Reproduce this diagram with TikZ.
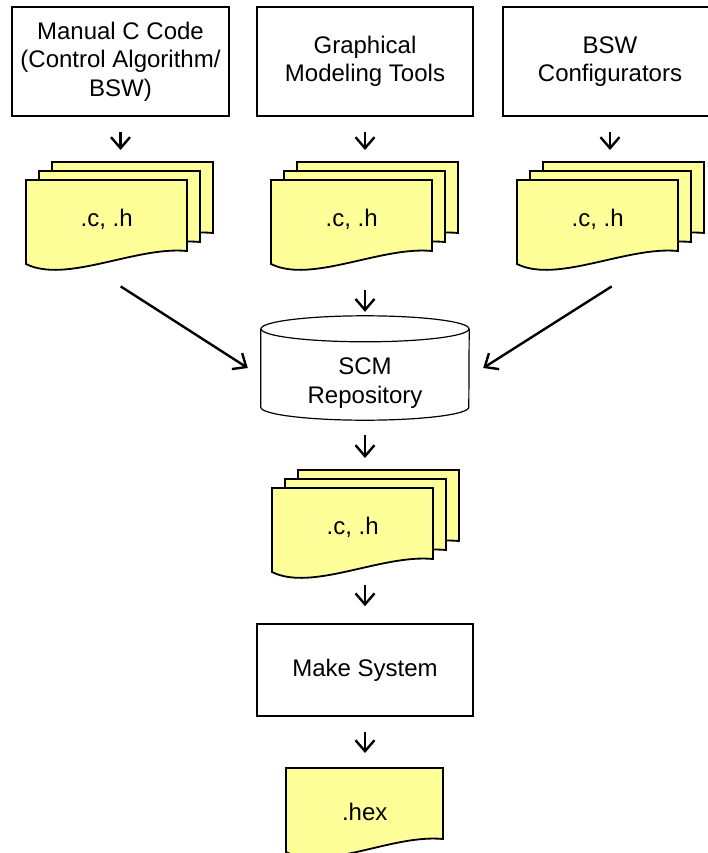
\documentclass[tikz,border=0pt]{standalone}
\usepackage{fontspec}
\setmainfont{Liberation Sans}
\usetikzlibrary{arrows.meta,positioning}
\definecolor{sheetyellow}{RGB}{255,255,153}
\tikzset{
  procbox/.style={draw, line width=1.6pt, minimum width=216pt, minimum height=109pt, align=center, inner sep=0pt},
  flowarrow/.style={line width=2.4pt, -{Straight Barb[length=11pt,width=19pt]}},
  sheet/.style={draw, line width=1.8pt, fill=sheetyellow},
  docnode/.style={minimum width=161pt, minimum height=78pt, anchor=north west, inner sep=0pt},
  cylline/.style={draw, line width=1.2pt},
}
% one sheet: top left corner and width
\newcommand{\onesheet}[3]{%
  \begin{scope}[shift={(#1,#2)}]
    \draw[sheet] (0,0) -- (#3,0) -- (#3,71) .. controls (#3-51,66) and (40,104) .. (0,84) -- cycle;
  \end{scope}}
% stack of three sheets with a named front node
\newcommand{\docstack}[4]{%
  \onesheet{#2+26}{#3-18}{161}
  \onesheet{#2+13}{#3-9}{161}
  \onesheet{#2}{#3}{161}
  \node[docnode] (#1) at (#2,#3) {#4};}

\begin{document}
\begin{tikzpicture}[x=1pt, y=-1pt, font=\fontsize{24pt}{28.5pt}\selectfont]
\useasboundingbox (0,0) rectangle (707,853);

% Sources
\node[procbox, minimum width=217pt] (manual) at (120.5,61.5) {Manual C Code\\(Control Algorithm/\\BSW)};
\node[procbox] (graphical) at (365,61.5) {Graphical\\Modeling Tools};
\node[procbox, minimum width=214pt] (bswconf) at (610,61.5) {BSW\\Configurators};

% Generated files
\docstack{stackA}{26}{180}{.c, .h}
\docstack{stackB}{271}{180}{.c, .h}
\docstack{stackC}{517}{180}{.c, .h}

\draw[flowarrow, shorten <=15pt, shorten >=30pt] (manual.south) -- (manual.south |- stackA.north);
\draw[flowarrow, shorten <=15pt, shorten >=30pt] (graphical.south) -- (graphical.south |- stackB.north);
\draw[flowarrow, shorten <=15pt, shorten >=30pt] (bswconf.south) -- (bswconf.south |- stackC.north);

% Repository
\node[minimum width=208pt, minimum height=74pt, align=center, inner sep=0pt] (repo) at (365,383) {SCM\\Repository};
\draw[cylline] ([yshift=17pt]repo.north west) -- ([yshift=13pt]repo.south west)
  arc[start angle=180, end angle=360, x radius=104pt, y radius=13pt] -- ([yshift=17pt]repo.north east);
\draw[cylline] ([yshift=17pt]repo.north) ellipse [x radius=104pt, y radius=13pt];

\draw[flowarrow] ([xshift=14pt,yshift=-28pt]stackA.south) -- ([xshift=-13pt,yshift=15pt]repo.west);
\draw[flowarrow, shorten <=32pt, shorten >=34pt] (repo.north |- stackB.south) -- (repo.north);
\draw[flowarrow] ([xshift=14pt,yshift=-28pt]stackC.south) -- ([xshift=14pt,yshift=15pt]repo.east);

% Checked out files
\docstack{stackM}{272}{488}{.c, .h}
\draw[flowarrow, shorten <=15pt, shorten >=30pt] (repo.south) -- (repo.south |- stackM.north);

% Build
\node[procbox, minimum height=92pt] (make) at (365,670) {Make System};
\draw[flowarrow, shorten <=19pt, shorten >=17pt] (make.north |- stackM.south) -- (make.north);

\onesheet{286}{768}{157}
\node[docnode, minimum width=157pt, minimum height=88pt] (hex) at (286,768) {.hex};
\draw[flowarrow, shorten <=15pt, shorten >=15pt] (make.south) -- (make.south |- hex.north);
\end{tikzpicture}
\end{document}
